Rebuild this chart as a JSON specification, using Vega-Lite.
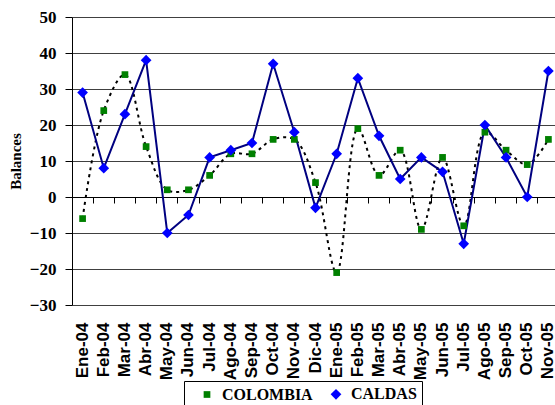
{
  "$schema": "https://vega.github.io/schema/vega-lite/v6.json",
  "autosize": "none",
  "width": 487,
  "height": 288,
  "padding": {"left": 72, "top": 17, "right": 0, "bottom": 100},
  "background": "white",
  "config": {"view": {"stroke": null}},
  "data": {"values": [
    {"mes": "Ene-04", "serie": "COLOMBIA", "valor": -6},
    {"mes": "Feb-04", "serie": "COLOMBIA", "valor": 24},
    {"mes": "Mar-04", "serie": "COLOMBIA", "valor": 34},
    {"mes": "Abr-04", "serie": "COLOMBIA", "valor": 14},
    {"mes": "May-04", "serie": "COLOMBIA", "valor": 2},
    {"mes": "Jun-04", "serie": "COLOMBIA", "valor": 2},
    {"mes": "Jul-04", "serie": "COLOMBIA", "valor": 6},
    {"mes": "Ago-04", "serie": "COLOMBIA", "valor": 12},
    {"mes": "Sep-04", "serie": "COLOMBIA", "valor": 12},
    {"mes": "Oct-04", "serie": "COLOMBIA", "valor": 16},
    {"mes": "Nov-04", "serie": "COLOMBIA", "valor": 16},
    {"mes": "Dic-04", "serie": "COLOMBIA", "valor": 4},
    {"mes": "Ene-05", "serie": "COLOMBIA", "valor": -21},
    {"mes": "Feb-05", "serie": "COLOMBIA", "valor": 19},
    {"mes": "Mar-05", "serie": "COLOMBIA", "valor": 6},
    {"mes": "Abr-05", "serie": "COLOMBIA", "valor": 13},
    {"mes": "May-05", "serie": "COLOMBIA", "valor": -9},
    {"mes": "Jun-05", "serie": "COLOMBIA", "valor": 11},
    {"mes": "Jul-05", "serie": "COLOMBIA", "valor": -8},
    {"mes": "Ago-05", "serie": "COLOMBIA", "valor": 18},
    {"mes": "Sep-05", "serie": "COLOMBIA", "valor": 13},
    {"mes": "Oct-05", "serie": "COLOMBIA", "valor": 9},
    {"mes": "Nov-05", "serie": "COLOMBIA", "valor": 16},
    {"mes": "Ene-04", "serie": "CALDAS", "valor": 29},
    {"mes": "Feb-04", "serie": "CALDAS", "valor": 8},
    {"mes": "Mar-04", "serie": "CALDAS", "valor": 23},
    {"mes": "Abr-04", "serie": "CALDAS", "valor": 38},
    {"mes": "May-04", "serie": "CALDAS", "valor": -10},
    {"mes": "Jun-04", "serie": "CALDAS", "valor": -5},
    {"mes": "Jul-04", "serie": "CALDAS", "valor": 11},
    {"mes": "Ago-04", "serie": "CALDAS", "valor": 13},
    {"mes": "Sep-04", "serie": "CALDAS", "valor": 15},
    {"mes": "Oct-04", "serie": "CALDAS", "valor": 37},
    {"mes": "Nov-04", "serie": "CALDAS", "valor": 18},
    {"mes": "Dic-04", "serie": "CALDAS", "valor": -3},
    {"mes": "Ene-05", "serie": "CALDAS", "valor": 12},
    {"mes": "Feb-05", "serie": "CALDAS", "valor": 33},
    {"mes": "Mar-05", "serie": "CALDAS", "valor": 17},
    {"mes": "Abr-05", "serie": "CALDAS", "valor": 5},
    {"mes": "May-05", "serie": "CALDAS", "valor": 11},
    {"mes": "Jun-05", "serie": "CALDAS", "valor": 7},
    {"mes": "Jul-05", "serie": "CALDAS", "valor": -13},
    {"mes": "Ago-05", "serie": "CALDAS", "valor": 20},
    {"mes": "Sep-05", "serie": "CALDAS", "valor": 11},
    {"mes": "Oct-05", "serie": "CALDAS", "valor": 0},
    {"mes": "Nov-05", "serie": "CALDAS", "valor": 35}
  ]},
  "encoding": {
    "y": {"field": "valor", "type": "quantitative",
          "scale": {"domain": [-30, 50], "nice": false},
          "axis": {"title": "Balances", "values": [-30, -20, -10, 0, 10, 20, 30, 40, 50], "labelOverlap": false, "tickCount": 20,
                   "titleFont": "Liberation Serif", "titleFontWeight": "bold", "titleFontSize": 15, "titleColor": "black", "titlePadding": 6,
                   "labelFont": "Liberation Serif", "labelFontWeight": "bold", "labelFontSize": 17, "labelColor": "black", "labelPadding": 9,
                   "tickSize": 7, "tickColor": "black", "domainColor": "black", "grid": true, "gridColor": "#404040", "gridWidth": 1}}
  },
  "resolve": {"axis": {"x": "independent"}},
  "layer": [
    {
      "transform": [{"filter": "datum.serie === 'COLOMBIA'"}],
      "mark": {"type": "line", "interpolate": "catmull-rom", "color": "black", "strokeWidth": 2, "strokeDash": [3, 4]},
      "encoding": {
        "x": {"field": "mes", "type": "nominal", "sort": null,
              "scale": {"type": "band", "paddingInner": 0, "paddingOuter": 0},
              "axis": {"title": null, "orient": "bottom", "labelAngle": -90, "labelFont": "Liberation Sans", "labelFontWeight": "bold",
                       "labelFontSize": 17, "labelColor": "black", "labelPadding": 17, "labelOverlap": false, "ticks": false, "domain": false, "grid": false}}
      }
    },
    {
      "transform": [{"filter": "datum.serie === 'CALDAS'"}],
      "mark": {"type": "line", "color": "#000080", "strokeWidth": 2},
      "encoding": {
        "x": {"field": "mes", "type": "nominal", "sort": null,
              "axis": {"title": null, "orient": "bottom", "labels": false, "ticks": true, "tickSize": 6, "tickColor": "black", "bandPosition": 0,
                       "domain": true, "domainColor": "black", "grid": false, "offset": -108}}
      }
    },
    {
      "mark": {"type": "point", "filled": true, "opacity": 1},
      "encoding": {
        "x": {"field": "mes", "type": "nominal", "sort": null, "axis": null},
        "color": {"field": "serie", "type": "nominal",
                  "scale": {"domain": ["COLOMBIA", "CALDAS"], "range": ["#008000", "#0000FF"]},
                  "legend": {"title": null, "orient": "none", "legendX": 112, "legendY": 364, "direction": "horizontal",
                             "strokeColor": "black", "padding": 5, "symbolOffset": 10, "labelOffset": 7, "columnPadding": 5,
                             "symbolOpacity": 1,
                             "labelFont": "Liberation Serif", "labelFontWeight": "bold", "labelFontSize": 16, "labelColor": "black"}},
        "shape": {"field": "serie", "type": "nominal",
                  "scale": {"domain": ["COLOMBIA", "CALDAS"], "range": ["square", "diamond"]}},
        "size": {"field": "serie", "type": "nominal",
                 "scale": {"domain": ["COLOMBIA", "CALDAS"], "range": [45, 115]}, "legend": null}
      }
    }
  ]
}
